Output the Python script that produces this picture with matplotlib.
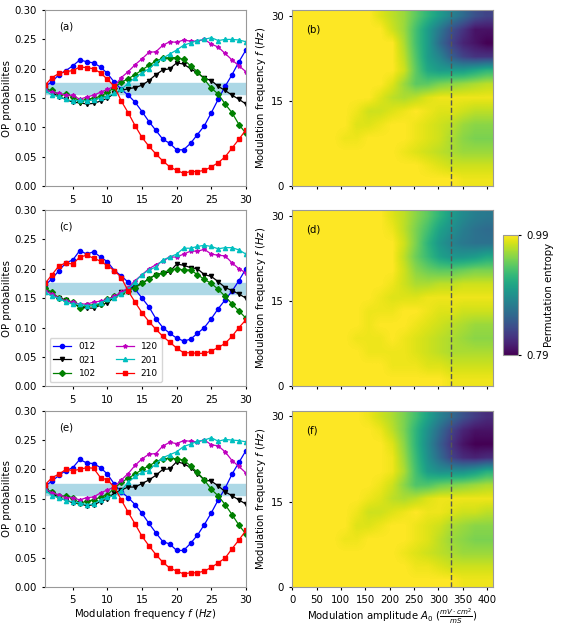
import numpy as np
import matplotlib.pyplot as plt

# ======================
# DATA
# ======================

freq = list(range(1, 31))
labels = ['012', '021', '102', '120', '201', '210']

op_a = {
    '012': [.170, .178, .190, .197, .205, .215, .212, .210, .203, .192, .177, .165, .155, .143, .127,
            .110, .095, .080, .073, .062, .062, .073, .088, .103, .125, .148, .170, .190, .212, .232],
    '021': [.165, .160, .152, .148, .143, .142, .140, .141, .145, .150, .158, .163, .166, .168, .172,
            .180, .190, .198, .200, .210, .208, .200, .193, .184, .180, .170, .163, .155, .148, .140],
    '102': [.165, .163, .156, .157, .152, .145, .148, .150, .153, .160, .168, .177, .183, .190, .198,
            .206, .213, .218, .219, .219, .216, .205, .195, .182, .167, .157, .140, .125, .105, .090],
    '120': [.165, .160, .158, .155, .155, .148, .152, .155, .160, .165, .170, .185, .195, .207, .217,
            .228, .229, .240, .246, .245, .249, .247, .247, .250, .242, .237, .226, .215, .205, .195],
    '201': [.163, .155, .153, .148, .145, .146, .145, .147, .150, .153, .158, .165, .175, .185, .193,
            .200, .210, .218, .225, .232, .240, .244, .248, .250, .253, .248, .250, .250, .249, .246],
    '210': [.172, .185, .192, .195, .197, .203, .202, .200, .193, .182, .170, .145, .125, .103, .083,
            .068, .055, .043, .033, .027, .022, .025, .025, .027, .033, .040, .050, .065, .080, .096],
}

op_c = {
    '012': [.172, .183, .197, .210, .215, .231, .225, .229, .220, .212, .197, .188, .177, .165, .150,
            .135, .115, .100, .090, .082, .077, .080, .090, .100, .115, .132, .147, .162, .180, .200],
    '021': [.165, .157, .150, .147, .142, .135, .133, .133, .138, .142, .152, .160, .165, .170, .175,
            .183, .190, .192, .195, .208, .206, .202, .200, .190, .187, .178, .168, .163, .157, .150],
    '102': [.167, .160, .150, .147, .143, .133, .138, .138, .140, .148, .153, .158, .163, .168, .175,
            .183, .190, .193, .198, .200, .198, .198, .190, .182, .175, .165, .153, .140, .128, .116],
    '120': [.163, .157, .150, .145, .143, .140, .140, .143, .145, .148, .153, .160, .168, .180, .190,
            .200, .207, .213, .220, .220, .225, .230, .230, .233, .225, .223, .222, .210, .200, .193],
    '201': [.160, .153, .150, .143, .140, .140, .137, .138, .142, .148, .150, .157, .165, .178, .190,
            .198, .203, .215, .220, .225, .235, .235, .238, .240, .238, .234, .236, .236, .232, .225],
    '210': [.175, .190, .205, .210, .208, .220, .223, .218, .213, .205, .197, .185, .162, .143, .125,
            .110, .097, .085, .075, .065, .057, .057, .056, .056, .060, .066, .073, .085, .100, .113],
}

op_e = {
    '012': [.172, .180, .190, .198, .203, .217, .211, .210, .203, .192, .175, .162, .152, .140, .125,
            .108, .092, .077, .073, .062, .062, .074, .088, .106, .126, .148, .168, .192, .212, .232],
    '021': [.165, .160, .151, .148, .143, .142, .138, .140, .145, .150, .160, .165, .170, .170, .176,
            .182, .190, .200, .201, .213, .210, .203, .193, .182, .180, .172, .162, .155, .148, .141],
    '102': [.166, .162, .154, .155, .152, .142, .146, .148, .153, .157, .168, .178, .185, .192, .200,
            .206, .213, .218, .219, .218, .216, .206, .195, .182, .166, .155, .140, .123, .105, .090],
    '120': [.167, .160, .157, .152, .152, .148, .152, .153, .160, .165, .170, .182, .193, .207, .218,
            .226, .227, .240, .246, .244, .249, .248, .247, .250, .242, .240, .230, .215, .205, .194],
    '201': [.165, .155, .152, .147, .145, .143, .140, .141, .148, .153, .155, .164, .178, .188, .195,
            .198, .210, .220, .225, .230, .239, .243, .248, .250, .254, .248, .251, .250, .249, .247],
    '210': [.174, .186, .192, .200, .198, .200, .203, .202, .186, .182, .170, .148, .127, .107, .086,
            .070, .055, .042, .032, .027, .022, .024, .024, .027, .033, .041, .049, .065, .080, .096],
}

# permutation entropy, rows: f = 0, 2.5, ..., 30 Hz ; columns: A0 = 0, 25, ..., 400
amp = list(range(0, 401, 25))
mfreq = [0, 2.5, 5, 7.5, 10, 12.5, 15, 17.5, 20, 22.5, 25, 27.5, 30]

pe_b = [
    [990, 990, 990, 990, 990, 990, 990, 990, 990, 990, 990, 990, 990, 990, 985, 985, 985],
    [990, 990, 990, 990, 990, 990, 990, 990, 990, 990, 990, 985, 980, 975, 975, 975, 975],
    [990, 990, 990, 990, 990, 990, 990, 990, 990, 985, 980, 975, 970, 965, 960, 960, 960],
    [990, 990, 990, 990, 985, 985, 990, 990, 990, 990, 985, 980, 975, 965, 955, 950, 950],
    [990, 990, 990, 990, 990, 980, 980, 985, 990, 990, 985, 980, 975, 970, 960, 955, 955],
    [990, 990, 990, 990, 990, 985, 975, 975, 980, 985, 990, 985, 980, 980, 975, 970, 970],
    [990, 990, 990, 990, 990, 990, 990, 980, 970, 965, 970, 980, 985, 985, 985, 985, 985],
    [990, 990, 990, 990, 990, 990, 990, 990, 980, 960, 940, 940, 950, 955, 960, 965, 970],
    [990, 990, 990, 990, 990, 990, 990, 990, 990, 975, 940, 910, 900, 900, 900, 910, 920],
    [990, 990, 990, 990, 990, 990, 990, 990, 990, 970, 935, 900, 880, 850, 830, 820, 820],
    [990, 990, 990, 990, 990, 990, 990, 990, 990, 965, 930, 900, 860, 830, 810, 800, 790],
    [990, 990, 990, 990, 990, 990, 990, 990, 975, 960, 930, 900, 870, 840, 820, 800, 800],
    [990, 990, 990, 990, 990, 990, 990, 980, 970, 960, 940, 920, 900, 880, 860, 840, 830],
]

pe_d = [
    [990, 990, 990, 990, 990, 990, 990, 990, 990, 990, 990, 990, 990, 985, 985, 985, 985],
    [990, 990, 990, 990, 990, 990, 990, 990, 985, 985, 985, 980, 980, 975, 975, 975, 975],
    [990, 990, 990, 990, 990, 990, 985, 985, 985, 985, 980, 975, 970, 965, 965, 965, 965],
    [990, 990, 990, 990, 990, 985, 985, 985, 990, 985, 980, 975, 970, 965, 960, 955, 955],
    [990, 990, 990, 990, 990, 990, 985, 990, 990, 990, 985, 980, 975, 970, 965, 960, 960],
    [990, 990, 990, 990, 990, 990, 985, 985, 985, 990, 990, 985, 980, 980, 975, 975, 975],
    [990, 990, 990, 990, 990, 990, 990, 985, 980, 980, 980, 985, 985, 985, 985, 985, 985],
    [990, 990, 990, 990, 990, 990, 990, 990, 985, 975, 965, 965, 970, 970, 975, 975, 975],
    [990, 990, 990, 990, 990, 990, 990, 990, 990, 975, 955, 945, 940, 940, 945, 950, 950],
    [990, 990, 990, 990, 990, 990, 990, 990, 990, 970, 945, 925, 905, 895, 895, 900, 910],
    [990, 990, 990, 990, 990, 990, 990, 990, 990, 975, 950, 920, 895, 880, 870, 865, 865],
    [990, 990, 990, 990, 990, 990, 990, 990, 985, 970, 950, 930, 905, 890, 875, 865, 860],
    [990, 990, 990, 990, 990, 990, 990, 990, 980, 970, 955, 940, 920, 900, 885, 875, 870],
]

pe_f = [
    [990, 990, 990, 990, 990, 990, 990, 990, 990, 990, 990, 990, 990, 990, 985, 985, 985],
    [990, 990, 990, 990, 990, 990, 990, 990, 990, 990, 985, 985, 980, 975, 975, 975, 975],
    [990, 990, 990, 990, 990, 990, 990, 990, 990, 985, 980, 975, 970, 965, 960, 960, 960],
    [990, 990, 990, 990, 985, 985, 990, 990, 990, 990, 985, 980, 970, 960, 955, 950, 950],
    [990, 990, 990, 990, 990, 980, 980, 985, 990, 990, 985, 980, 975, 965, 960, 955, 955],
    [990, 990, 990, 990, 990, 985, 975, 975, 980, 985, 990, 985, 985, 980, 975, 975, 970],
    [990, 990, 990, 990, 990, 990, 985, 980, 970, 965, 970, 980, 985, 985, 985, 985, 985],
    [990, 990, 990, 990, 990, 990, 990, 985, 975, 955, 935, 935, 945, 950, 955, 960, 965],
    [990, 990, 990, 990, 990, 990, 990, 990, 985, 965, 930, 900, 890, 890, 890, 900, 915],
    [990, 990, 990, 990, 990, 990, 990, 990, 985, 960, 925, 890, 860, 830, 815, 810, 815],
    [990, 990, 990, 990, 990, 990, 990, 990, 980, 955, 920, 885, 850, 820, 800, 790, 790],
    [990, 990, 990, 990, 990, 990, 990, 985, 970, 950, 920, 890, 860, 830, 810, 800, 800],
    [990, 990, 990, 990, 990, 990, 985, 975, 965, 950, 930, 905, 880, 860, 840, 825, 815],
]

colors = {'012': 'blue', '021': 'black', '102': 'green',
          '120': 'm', '201': 'c', '210': 'red'}
markers = {'012': 'o', '021': 'v', '102': 'D',
           '120': '*', '201': '^', '210': 's'}

plt.rcParams['font.size'] = 7.3
plt.rcParams['xtick.major.size'] = 2.5
plt.rcParams['ytick.major.size'] = 2.5

fig = plt.figure(figsize=(5.64, 6.27), dpi=100)

bottoms = [0.703, 0.384, 0.064]
w = 0.356
h = 0.281

line_sets = [op_a, op_c, op_e]
pe_sets = [pe_b, pe_d, pe_f]
left_tags = ['(a)', '(c)', '(e)']
right_tags = ['(b)', '(d)', '(f)']

for i in range(3):
    # ---- OP probabilities ----
    ax = fig.add_axes([0.080, bottoms[i], w, h])
    ax.axhspan(0.157, 0.175, color='lightblue', zorder=0)
    for lab in labels:
        ax.plot(freq, line_sets[i][lab], color=colors[lab],
                marker=markers[lab], markersize=3, lw=0.9, label=lab)
    ax.set_xlim(1, 30)
    ax.set_ylim(0, 0.30)
    ax.set_xticks([5, 10, 15, 20, 25, 30])
    ax.set_yticks(np.arange(0, 0.31, 0.05))
    ax.set_yticklabels(['%.2f' % v for v in np.arange(0, 0.31, 0.05)])
    ax.set_ylabel('OP probabilites', labelpad=2)
    ax.text(0.07, 0.89, left_tags[i], transform=ax.transAxes)
    for s in ax.spines.values():
        s.set_color('#999999')
    if i == 1:
        ax.legend(loc='lower left', ncol=2, fontsize=6.5, columnspacing=2.2)
    if i == 2:
        ax.set_xlabel('Modulation frequency $f$ $(Hz)$', labelpad=1)

    # ---- permutation entropy ----
    ax2 = fig.add_axes([0.518, bottoms[i], w, h])
    pe = np.array(pe_sets[i]) / 1000.0
    im = ax2.imshow(pe, origin='lower', aspect='auto', cmap='viridis',
                    vmin=0.79, vmax=0.99, interpolation='bilinear',
                    extent=[amp[0], 412, mfreq[0], 31])
    ax2.axvline(325, color='#555555', ls='--', lw=1)
    ax2.set_xlim(0, 412)
    ax2.set_ylim(0, 31)
    ax2.set_yticks([0, 15, 30])
    ax2.set_xticks(np.arange(0, 401, 50))
    ax2.set_ylabel('Modulation frequency $f$ $(Hz)$', labelpad=2)
    ax2.text(0.07, 0.87, right_tags[i], transform=ax2.transAxes)
    for s in ax2.spines.values():
        s.set_color('#999999')
    if i == 2:
        ax2.set_xlabel(r'Modulation amplitude $A_0$ $(\frac{mV\cdot cm^2}{mS})$', labelpad=1)
    else:
        ax2.set_xticklabels([])

cax = fig.add_axes([0.892, 0.434, 0.027, 0.191])
cb = fig.colorbar(im, cax=cax, ticks=[0.79, 0.99])
cb.set_label('Permutation entropy', labelpad=-4)
cb.outline.set_edgecolor('#999999')

plt.savefig('out.png', dpi=100)
plt.close()
